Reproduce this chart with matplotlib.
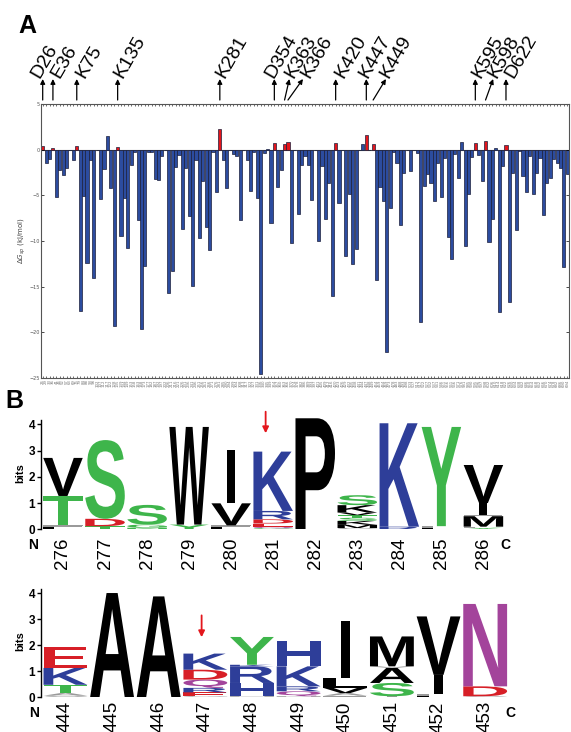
import matplotlib
matplotlib.use('Agg')
import matplotlib.pyplot as plt
import matplotlib.transforms as mtransforms
from matplotlib.textpath import TextPath
from matplotlib.patches import PathPatch
from matplotlib.font_manager import FontProperties

# ---------------- DATA ----------------
# panel A: binding free energy per residue (kJ/mol), one bar per residue
dG = [0.45, -1.45, -1.0, 0.18, -5.2, -2.2, -2.8, -2.0, 0.0, -1.1,
      0.4, -17.7, -5.1, -12.4, -1.16, -14.0, 0.0, -5.4, -2.15, 1.55,
      -4.2, -19.3, 0.25, -9.4, -5.3, -10.8, -1.64, -0.2, -7.7, -19.6,
      -12.7, -0.3, -0.25, -3.2, -3.35, -0.7, 0.0, -15.7, -13.3, -1.9,
      -0.6, -8.7, -2.0, -7.3, -14.9, -1.15, -9.65, -3.4, -8.5, -11.0,
      -0.3, -4.6, 2.26, -1.1, -4.15, 0.0, -0.47, -0.66, -7.7, 0.0,
      -1.1, -4.5, -0.2, -5.3, -24.6, -0.38, 0.08, -8.05, 0.78, -4.05,
      -2.2, 0.62, 0.84, -10.25, 0.0, -7.05, -1.64, -0.7, -1.7, -5.5,
      0.0, -10.05, -1.8, -7.6, -3.7, -16.0, 0.77, -5.8, 0.0, -11.6,
      -4.8, -12.5, -10.85, 0.0, 0.62, 1.64, 0.0, 0.58, -14.3, -4.1,
      -5.66, -22.2, -6.4, -0.26, -1.42, -8.2, -2.6, 0.0, -2.3, 0.0,
      -0.36, -18.9, -4.0, -2.66, -3.6, -5.6, -1.46, -5.2, -0.9, -9.6,
      -12.0, -0.47, -3.1, 0.84, -10.6, -4.8, -0.8, 0.69, -0.58, -3.47,
      0.91, -10.15, -7.6, 0.15, -17.8, -1.8, 0.51, -16.7, -2.5, -8.8,
      -0.18, -2.9, -4.6, -0.73, -4.8, -2.55, -0.95, -7.1, -3.6, -3.1,
      -1.0, -1.46, -2.0, -12.8, -2.66]

residues = [26, 29, 33, 36, 41, 46, 52, 57, 63, 69,
            75, 79, 84, 88, 93, 98, 102, 107, 112, 117,
            122, 128, 135, 139, 144, 149, 153, 158, 163, 168,
            173, 177, 182, 187, 192, 197, 202, 206, 211, 216,
            221, 226, 231, 236, 241, 246, 251, 256, 261, 266,
            271, 276, 281, 285, 290, 294, 299, 304, 308, 313,
            317, 322, 327, 331, 336, 340, 345, 349, 354, 357,
            360, 363, 366, 370, 374, 378, 382, 386, 389, 393,
            397, 401, 405, 409, 412, 416, 420, 423, 426, 429,
            432, 435, 438, 441, 444, 447, 448, 449, 454, 459,
            464, 469, 473, 478, 483, 488, 493, 498, 503, 507,
            512, 517, 522, 527, 532, 537, 541, 546, 551, 556,
            561, 566, 571, 576, 581, 585, 590, 595, 596, 597,
            598, 602, 606, 610, 614, 618, 622, 626, 630, 634,
            638, 642, 646, 650, 654, 658, 662, 666, 670, 674,
            678, 682, 686, 690, 694]

marked = ['D26', 'E36', 'K75', 'K135', 'K281', 'D354', 'K363', 'K366',
          'K420', 'K447', 'K449', 'K595', 'K598', 'D622']

# panel B: sequence logos, stacks listed bottom -> top as (letter, colour, bits)
logo1_pos = [276, 277, 278, 279, 280, 281, 282, 283, 284, 285, 286]
logo1 = [
    [('L', 'k', 0.08), ('F', 'x', 0.07), ('T', 'g', 1.12), ('V', 'k', 1.45)],
    [('T', 'g', 0.12), ('D', 'r', 0.28), ('S', 'g', 3.0)],
    [('N', 'g', 0.06), ('G', 'g', 0.12), ('S', 'g', 0.75)],
    [('Y', 'g', 0.18), ('W', 'k', 3.72)],
    [('L', 'k', 0.08), ('F', 'x', 0.07), ('V', 'k', 0.84), ('I', 'k', 2.03)],
    [('G', 'g', 0.04), ('Q', 'p', 0.06), ('E', 'r', 0.12), ('D', 'r', 0.16),
     ('R', 'b', 0.32), ('K', 'b', 2.26)],
    [('P', 'k', 4.23)],
    [('G', 'x', 0.05), ('M', 'k', 0.12), ('K', 'k', 0.15), ('S', 'g', 0.12),
     ('T', 'g', 0.1), ('V', 'k', 0.1), ('K', 'k', 0.28), ('S', 'g', 0.38)],
    [('R', 'b', 0.1), ('K', 'b', 3.94)],
    [('L', 'k', 0.06), ('F', 'x', 0.06), ('Y', 'g', 3.78)],
    [('Y', 'g', 0.06), ('L', 'x', 0.04), ('M', 'k', 0.4), ('F', 'x', 0.05),
     ('I', 'k', 0.45), ('V', 'k', 1.45)],
]
logo1_mark = 281

logo2_pos = [444, 445, 446, 447, 448, 449, 450, 451, 452, 453]
logo2 = [
    [('S', 'x', 0.05), ('A', 'x', 0.1), ('T', 'g', 0.32), ('K', 'b', 0.65),
     ('E', 'r', 0.8)],
    [('A', 'k', 4.0)],
    [('A', 'k', 3.87)],
    [('G', 'x', 0.03), ('E', 'r', 0.15), ('R', 'b', 0.17), ('Q', 'p', 0.32),
     ('D', 'r', 0.38), ('K', 'b', 0.62)],
    [('N', 'x', 0.03), ('H', 'b', 0.51), ('R', 'b', 0.64), ('K', 'b', 0.06),
     ('Y', 'g', 1.07)],
    [('N', 'x', 0.03), ('Q', 'p', 0.19), ('R', 'b', 0.19), ('K', 'b', 0.77),
     ('H', 'b', 0.96)],
    [('F', 'x', 0.05), ('A', 'x', 0.1), ('V', 'k', 0.2), ('L', 'k', 0.38),
     ('I', 'k', 2.18)],
    [('T', 'x', 0.03), ('S', 'g', 0.51), ('A', 'k', 0.58), ('V', 'x', 0.06),
     ('M', 'k', 1.15)],
    [('L', 'k', 0.05), ('F', 'x', 0.07), ('I', 'k', 0.73), ('V', 'k', 2.25)],
    [('S', 'x', 0.03), ('D', 'r', 0.38), ('N', 'p', 3.17)],
]
logo2_mark = 447

# ---------------- STYLE ----------------
BLUE = '#2c4c9f'
RED = '#e3161c'
LOGO_COL = {'k': '#000000', 'g': '#3eb54b', 'b': '#2e3e99', 'r': '#d71f27',
            'p': '#a3449b', 'x': '#9a9a9a'}
FONT = 'Liberation Sans'
LOGO_FP = FontProperties(family=FONT, weight='bold')

fig = plt.figure(figsize=(5.71, 7.32), dpi=100)

# ---------------- PANEL A ----------------
ax = fig.add_axes([0.0718, 0.4836, 0.9247, 0.3743])
xs = list(range(1, len(dG) + 1))
marked_num = [int(m[1:]) for m in marked]
colors = [RED if r in marked_num else BLUE for r in residues]
ax.bar(xs, dG, width=0.92, color=colors, edgecolor='#1b1f3b', linewidth=0.5)
ax.axhline(0, color='#555555', lw=0.8, zorder=0)
ax.set_xlim(0.5, len(dG) + 0.5)
ax.set_ylim(-25, 5)
ax.set_yticks([-25, -20, -15, -10, -5, 0, 5])
ax.tick_params(axis='y', labelsize=3.5, labelcolor='#555555', direction='in',
               length=2, width=0.5, right=True, pad=1)
ax.set_xticks(xs)
ax.set_xticklabels([str(r) for r in residues], rotation=90, fontsize=2.8,
                   color='#777777')
ax.tick_params(axis='x', direction='in', length=1.5, width=0.4, top=True, pad=1)
for s in ax.spines.values():
    s.set_color('#555555')
    s.set_linewidth(0.8)
ax.set_ylabel(r'$\Delta G_{sp}$ (kJ/mol)', fontsize=5, color='#444444', labelpad=1)

# arrows + labels above panel A (offsets in px: arrow head dx, label dx)
arrow_dx = {'K363': 4.8, 'K366': 15, 'K449': 12.8, 'K598': 7.6}
label_dx = {'D26': -15, 'E36': -4.5, 'K75': -3.5, 'K135': -6.5, 'K281': -6.5,
            'D354': -12, 'K363': -7, 'K366': -5, 'K420': -4, 'K447': -10,
            'K449': -9, 'K595': -6, 'K598': -8, 'D622': -3.5}
blend = mtransforms.blended_transform_factory(ax.transData, ax.transAxes)
px = 0.72  # points per pixel
for lab in marked:
    i = residues.index(int(lab[1:])) + 1
    hdx = arrow_dx.get(lab, 0)
    tail = mtransforms.offset_copy(blend, fig=fig, x=0, y=4 * px, units='points')
    head = mtransforms.offset_copy(blend, fig=fig, x=hdx * px, y=25 * px, units='points')
    ax.annotate('', xy=(i, 1), xycoords=head, xytext=(i, 1), textcoords=tail,
                arrowprops=dict(arrowstyle='-|>', color='black', lw=0.9,
                                mutation_scale=7, shrinkA=0, shrinkB=0),
                annotation_clip=False)
    ttr = mtransforms.offset_copy(blend, fig=fig, x=(hdx + label_dx[lab]) * px,
                                  y=23 * px, units='points')
    ax.text(i, 1, lab, transform=ttr, rotation=60, ha='left', va='bottom',
            fontsize=14, family=FONT, clip_on=False)

fig.text(0.032, 0.955, 'A', fontsize=18, fontweight='bold', family=FONT)
fig.text(0.009, 0.443, 'B', fontsize=18, fontweight='bold', family=FONT)


# ---------------- PANEL B ----------------
def draw_letter(ax, ch, xc, y0, h, color, w=0.94):
    tp = TextPath((0, 0), ch, size=1, prop=LOGO_FP)
    bb = tp.get_extents()
    gw = w * (0.2 if ch == 'I' else 1.0)
    t = (mtransforms.Affine2D()
         .translate(-bb.x0, -bb.y0)
         .scale(gw / bb.width, h / bb.height)
         .translate(xc - gw / 2, y0))
    ax.add_patch(PathPatch(t.transform_path(tp), fc=color, ec='none', lw=0))


def draw_logo(rect, positions, stacks, xmax, mark, arrow_y, n_x, c_x, pad):
    lax = fig.add_axes(rect)
    for k, stack in enumerate(stacks):
        y = 0.0
        for ch, c, h in stack:
            draw_letter(lax, ch, k + 1, y, h, LOGO_COL[c])
            y += h
    lax.set_xlim(0.47, xmax)
    lax.set_ylim(0, 4.3)
    for s in ['top', 'right', 'bottom']:
        lax.spines[s].set_visible(False)
    lax.spines['left'].set_bounds(0, 4.15)
    lax.spines['left'].set_linewidth(1.0)
    lax.set_yticks([0, 1, 2, 3, 4])
    lax.set_yticklabels(['0', '1', '2', '3', '4'], fontsize=8.5,
                        fontweight='bold', family=FONT)
    lax.tick_params(axis='y', length=3, width=1.0, pad=1)
    lax.set_xticks(range(1, len(positions) + 1))
    lax.set_xticklabels([str(p) for p in positions], rotation=90,
                        fontsize=13.5, family=FONT)
    lax.tick_params(axis='x', length=0, pad=pad)
    lax.set_ylabel('bits', fontsize=8, fontweight='bold', family=FONT, labelpad=2)
    k = positions.index(mark) + 1
    lax.annotate('', xy=(k + arrow_y[0], arrow_y[2]), xycoords='data',
                 xytext=(k + arrow_y[0], arrow_y[1]), textcoords='data',
                 arrowprops=dict(arrowstyle='-|>', color='#e3161c', lw=1.3,
                                 mutation_scale=9, shrinkA=0, shrinkB=0),
                 annotation_clip=False)
    lax.text(n_x, -0.6, 'N', transform=lax.transData, fontsize=10,
             fontweight='bold', family=FONT, ha='center', va='center', clip_on=False)
    lax.text(c_x, -0.6, 'C', transform=lax.transData, fontsize=10,
             fontweight='bold', family=FONT, ha='center', va='center', clip_on=False)
    return lax


draw_logo([0.0713, 0.2769, 0.8217, 0.1542], logo1_pos, logo1, 11.63, logo1_mark,
          (-0.18, 4.48, 3.66), 0.29, 11.52, 6)
draw_logo([0.0713, 0.0478, 0.8217, 0.1527], logo2_pos, logo2, 10.53, logo2_mark,
          (-0.08, 3.14, 2.3), 0.32, 10.53, 3)

fig.savefig('out.png', dpi=100)
